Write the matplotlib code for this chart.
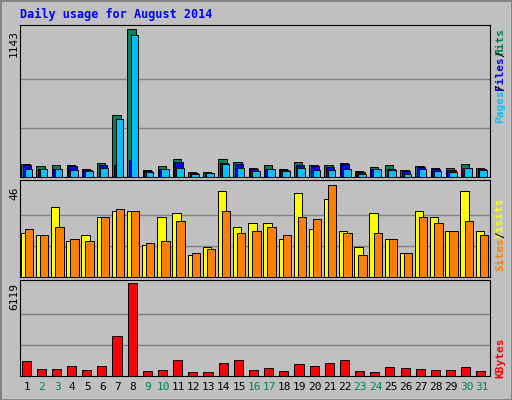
import numpy as np
import matplotlib.pyplot as plt

days = list(range(1, 32))
weekend = {2, 3, 9, 10, 16, 17, 23, 24, 30, 31}

hits = [98, 82, 90, 90, 59, 106, 480, 1143, 51, 82, 136, 36, 36, 136, 113, 67, 90, 59, 113, 90, 90, 106, 44, 75, 90, 51, 82, 67, 67, 98, 67]
files = [90, 64, 64, 82, 57, 90, 90, 129, 44, 64, 118, 33, 33, 111, 103, 59, 64, 57, 90, 82, 75, 98, 39, 64, 64, 49, 75, 62, 57, 72, 59]
pages = [64, 64, 64, 57, 49, 72, 450, 1100, 41, 64, 72, 26, 33, 103, 72, 49, 64, 49, 72, 57, 57, 64, 26, 64, 57, 26, 64, 49, 41, 72, 57]
visits = [22, 21, 35, 18, 21, 30, 33, 33, 16, 30, 32, 11, 15, 43, 25, 27, 27, 19, 42, 24, 39, 23, 15, 32, 19, 12, 33, 30, 23, 43, 23]
sites = [24, 21, 25, 19, 18, 30, 34, 33, 17, 18, 28, 12, 14, 33, 22, 23, 25, 21, 30, 29, 46, 22, 11, 22, 19, 12, 30, 27, 23, 28, 21]
kbytes = [978, 442, 442, 643, 375, 643, 2631, 6119, 308, 375, 1045, 246, 246, 844, 1045, 375, 509, 308, 777, 643, 844, 1045, 308, 246, 576, 509, 442, 375, 375, 576, 308]

W, H = 512, 400
fig = plt.figure(figsize=(W / 100, H / 100), dpi=100)
fig.patch.set_facecolor('#c0c0c0')
fig.add_artist(plt.Rectangle((0, 0), 1, 1, transform=fig.transFigure, fill=False, ec='#808080', lw=2))

def panel(y0, y1):
    ax = fig.add_axes([20 / W, 1 - y1 / H, 470 / W, (y1 - y0) / H])
    ax.set_facecolor('#c0c0c0')
    ax.set_xlim(0.5, 31.5)
    ax.set_xticks([])
    ax.set_yticks([])
    for s in ax.spines.values():
        s.set_color('black')
    return ax

x = np.array(days)
mono = 'DejaVu Sans Mono'
lw = 0.7

# top: hits / files / pages
ax1 = panel(25, 177)
ax1.set_ylim(0, 1143 * 1.03)
for g in (1143 / 3, 2 * 1143 / 3):
    ax1.axhline(g, color='#808080', lw=1, zorder=0)
ax1.bar(x - 0.42, hits, width=0.55, color='#00805c', ec='black', lw=lw, align='edge', zorder=2)
ax1.bar(x - 0.32, files, width=0.55, color='#0000ff', ec='black', lw=lw, align='edge', zorder=3)
ax1.bar(x - 0.2, pages, width=0.5, color='#00c0ff', ec='black', lw=lw, align='edge', zorder=4)

# middle: visits / sites
ax2 = panel(180, 277)
ax2.set_ylim(0, 46 * 1.05)
for g in (46 / 3, 2 * 46 / 3):
    ax2.axhline(g, color='#808080', lw=1, zorder=0)
ax2.bar(x - 0.45, visits, width=0.55, color='#ffff00', ec='black', lw=lw, align='edge', zorder=2)
ax2.bar(x - 0.18, sites, width=0.55, color='#ff8000', ec='black', lw=lw, align='edge', zorder=3)

# bottom: kbytes
ax3 = panel(280, 376)
ax3.set_ylim(0, 6119 * 1.03)
for g in (6119 / 3, 2 * 6119 / 3):
    ax3.axhline(g, color='#808080', lw=1, zorder=0)
ax3.bar(x - 0.1, kbytes, width=0.6, color='#ff0000', ec='black', lw=lw, zorder=2)

for d in days:
    ax3.text(d - 0.05, -0.06, str(d), transform=ax3.get_xaxis_transform(), ha='center', va='top',
             fontsize=8, family=mono, color='#00805c' if d in weekend else 'black')

fig.text(20 / W, 1 - 14 / H, 'Daily usage for August 2014', color='#0000ff', fontsize=8.5,
         family=mono, fontweight='bold', va='center')
for yc, lab in ((30, '1143'), (186, '46'), (283, '6119')):
    fig.text(14 / W, 1 - yc / H, lab, rotation=90, fontsize=8, family=mono, ha='center', va='top')

def side(parts, ytop):
    y = ytop
    for txt, col in parts:
        fig.text(500 / W, 1 - y / H, txt, rotation=90, fontsize=8, family=mono,
                 color=col, fontweight='bold', ha='center', va='top')
        y += len(txt) * 5.6

side([('Hits', '#00805c'), ('/', 'black'), ('Files', '#0000ff'), ('/', 'black'), ('Pages', '#00c0ff')], 28)
side([('Visits', '#ffff00'), ('/', 'black'), ('Sites', '#ff8000')], 198)
side([('KBytes', '#ff0000')], 338)

fig.savefig('out.png', dpi=100, facecolor=fig.get_facecolor())
